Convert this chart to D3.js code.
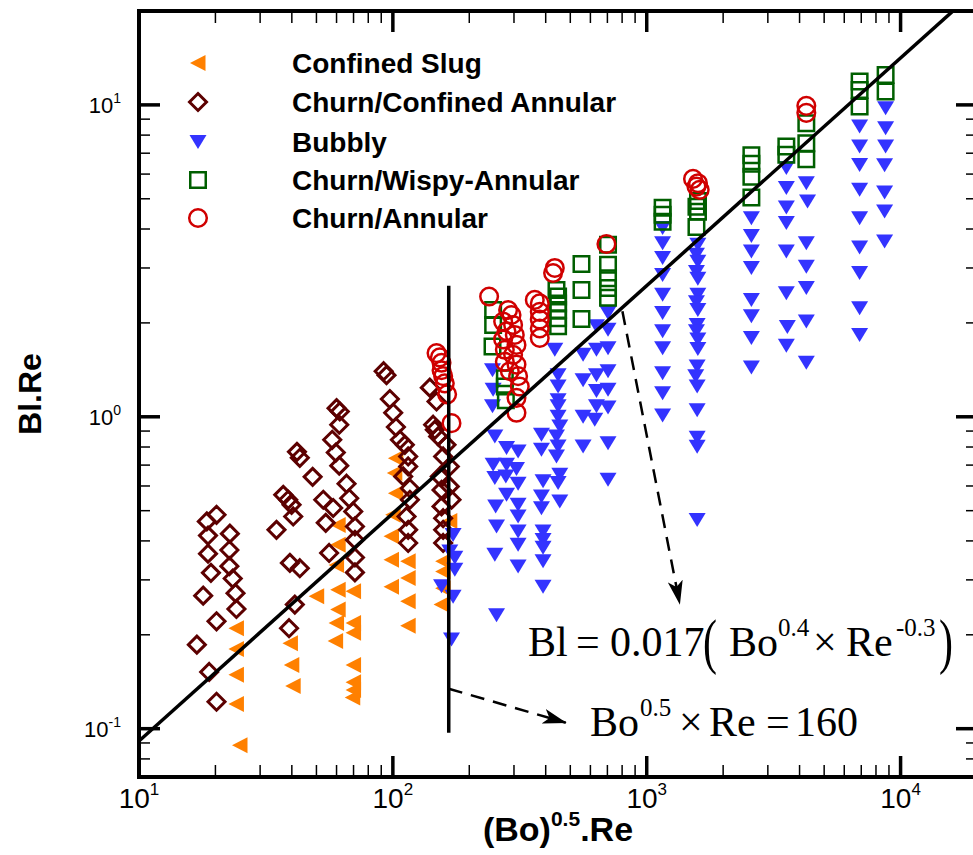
<!DOCTYPE html>
<html><head><meta charset="utf-8">
<script src="https://cdn.jsdelivr.net/npm/d3@7"></script>
<style>body{margin:0;background:#fff}svg{display:block}</style>
</head><body>
<svg id="chart" width="973" height="855"></svg>
<script>
// ---------------- data ----------------
const xMajorTicks = [10, 100, 1000, 10000];
const yMajorTicks = [0.1, 1, 10];
const xTickExponents = ["1", "2", "3", "4"];
const yTickExponents = ["-1", "0", "1"];
const seriesNames = ["Confined Slug", "Churn/Confined Annular", "Bubbly", "Churn/Wispy-Annular", "Churn/Annular"];

const confinedSlug = [
  [24.2,0.210],[24.2,0.180],[24.2,0.149],[24.2,0.120],[25.0,0.0885],
  [39.5,0.188],[40.0,0.160],[40.5,0.137],[50.1,0.266],
  [60.9,0.450],[60.9,0.389],[60.0,0.335],[60.9,0.279],[60.9,0.241],[60.0,0.218],[59.5,0.191],
  [70.0,0.276],[70.0,0.218],[70.0,0.203],[70.0,0.160],[70.0,0.141],[70.0,0.133],[69.5,0.126],
  [102.8,0.737],[101.8,0.660],[102.8,0.569],[100.3,0.485],[98.8,0.414],[98.8,0.348],[98.8,0.285],
  [114.9,0.344],[114.9,0.304],[114.9,0.256],[114.9,0.214],
  [157.8,0.344],[157.8,0.319],[157.8,0.282],[155.5,0.250],[167.6,0.463]
];
const churnConfined = [
  [20.2,0.485],[18.5,0.462],[18.7,0.416],[18.7,0.364],[19.2,0.316],[17.9,0.267],[20.2,0.221],[16.9,0.186],[18.9,0.152],[20.2,0.122],
  [22.8,0.422],[22.7,0.374],[22.7,0.332],[23.4,0.303],[24.0,0.272],[24.2,0.242],
  [34.8,0.434],[37.0,0.562],[38.7,0.542],[39.9,0.522],[40.5,0.479],[39.3,0.340],[43.0,0.327],[41.1,0.250],[39.0,0.210],
  [41.9,0.772],[43.0,0.739],[48.3,0.642],
  [53.2,0.542],[58.2,0.510],[54.4,0.457],[56.1,0.366],
  [60.0,1.066],[61.8,1.040],[61.5,0.943],[57.7,0.844],[59.6,0.768],[61.5,0.697],[65.7,0.610],[67.3,0.548],[69.8,0.497],[70.9,0.445],[70.9,0.403],[70.9,0.354],[70.9,0.317],
  [92.0,1.40],[94.4,1.36],[97.3,1.14],[100.3,1.03],[102.8,0.927],[106.6,0.844],[111.5,0.813],[114.9,0.746],[114.9,0.693],[109.8,0.644],[116.7,0.590],[116.7,0.542],[113.2,0.479],[114.9,0.434],[114.9,0.394],
  [139.8,1.24],[148.6,1.12],[144.1,0.943],[146.3,0.908],[150.8,0.865],[162.7,0.813],[157.8,0.746],[167.6,0.693],[153.1,0.644],[167.6,0.598],[155.5,0.583],[170.2,0.542],[155.5,0.516],[157.8,0.473],[157.8,0.434],[157.8,0.394]
];
const bubbly = [
  [172.7,0.418],[167.6,0.370],[175.4,0.353],[175.4,0.323],[155.5,0.286],[172.7,0.265],[170.2,0.193],
  [246.9,1.41],[248.3,1.22],[246.9,1.08],[252.2,0.865],[248.3,0.702],[252.2,0.636],[254.1,0.516],[256.1,0.445],[252.2,0.361],[256.1,0.231],
  [280.4,0.794],[280.4,0.702],[278.7,0.644],[280.4,0.562],
  [311.4,0.774],[306.9,0.680],[311.4,0.610],[311.4,0.522],[311.4,0.479],[311.4,0.429],[311.4,0.389],[311.4,0.331],
  [384.9,0.876],[384.9,0.784],[390.5,0.621],[384.9,0.555],[384.9,0.509],[390.5,0.429],[390.5,0.403],[390.5,0.380],[390.5,0.344],[390.5,0.285],
  [434.4,1.64],[447.6,1.36],[447.6,1.25],[447.6,1.13],[447.6,1.08],[447.6,1.00],[454.5,0.931],[441.1,0.865],[447.6,0.803],[441.1,0.746],[454.5,0.652],[447.6,0.613],[454.5,0.535],
  [561.5,1.58],[561.5,1.31],[561.5,1.00],[561.5,0.803],
  [633.9,1.95],[633.9,1.64],[633.9,1.36],[633.9,1.21],[633.9,1.08],[624.2,0.978],
  [704,2.15],[704,1.90],[704,1.66],[704,1.40],[704,1.22],[704,1.07],[704,0.823],[704,0.628],
  [1155,4.03],[1155,3.60],[1155,3.23],[1155,2.85],[1155,2.46],[1155,2.15],[1155,1.88],[1155,1.66],[1155,1.38],[1155,1.19],[1155,1.01],
  [1590,3.56],[1570,3.31],[1590,3.14],[1570,2.91],[1590,2.77],[1590,2.46],[1570,2.33],[1590,2.20],[1580,1.97],[1570,1.88],[1590,1.77],[1590,1.65],[1580,1.45],[1560,1.35],[1580,1.25],[1580,1.05],[1580,0.857],[1580,0.801],[1580,0.467],
  [2584,4.33],[2584,3.80],[2584,3.39],[2584,3.00],[2584,2.37],[2584,2.10],[2584,1.79],[2584,1.44],
  [3548,6.27],[3548,5.41],[3548,4.69],[3548,4.18],[3548,3.39],[3548,2.49],[3580,1.94],[3548,1.69],
  [4253,5.61],[4300,4.90],[4253,3.60],[4253,3.03],[4253,2.59],[4253,2.02],[4253,1.49],
  [6896,8.52],[6896,7.35],[6896,6.42],[6896,5.34],[6896,4.33],[6896,3.49],[6896,2.89],[6896,2.23],[6896,1.83],
  [8730,9.76],[8730,8.42],[8730,7.35],[8650,6.40],[8650,5.24],[8650,4.55],[8650,3.65]
];
const churnWispy = [
  [248.3,2.20],[248.3,1.97],[246.9,1.68],[276.1,1.33],[276.1,1.25],[278.7,1.13],
  [441.1,2.55],[447.6,2.43],[447.6,2.31],[447.6,2.20],[447.6,2.07],[447.6,1.95],
  [553.4,3.09],[553.4,2.55],[553.4,2.06],
  [704,3.56],[704,3.07],[704,2.78],[704,2.59],[704,2.41],
  [1155,4.68],[1155,4.44],[1155,4.22],
  [1592,4.92],[1570,4.71],[1592,4.54],[1570,4.06],
  [2584,6.89],[2584,6.47],[2584,5.88],[2584,5.05],
  [3548,7.35],[3548,6.92],
  [4253,8.74],[4253,7.54],[4253,6.70],
  [6896,11.88],[6896,11.17],[6896,9.88],
  [8730,12.48],[8730,11.03]
];
const churnAnnular = [
  [148.6,1.60],[153.1,1.55],[155.5,1.49],[155.5,1.41],[157.8,1.35],[160.2,1.28],[163.6,1.18],[170.2,0.954],
  [239.4,2.43],[284.4,2.20],[293.4,2.12],[271.9,2.02],[297.6,1.97],[280.4,1.88],[302.2,1.83],[271.9,1.77],[306.9,1.70],[276.1,1.64],[297.6,1.58],[276.1,1.50],[306.9,1.47],[288.9,1.40],[311.4,1.35],[316.2,1.25],[306.9,1.15],[306.9,1.03],
  [362.3,2.37],[379,2.31],[379,2.17],[379,2.05],[379,1.92],[379,1.79],
  [434.4,3.00],[427.7,2.89],[693.9,3.58],
  [1522,5.79],[1592,5.61],[1570,5.47],[1617,5.34],
  [4253,9.93],[4253,9.43]
];
// correlation line  Bl.Re = 0.017 * x^0.73
const fitCoef = 0.017, fitExp = 0.73;
const fitXRange = [10, 20000];
// transition line Bo^0.5 x Re = 160
const boundaryX = 166, boundaryYRange = [0.097, 2.63];
// annotation arrows [from, to] in data units
const arrowFit = [[802, 2.18], [1349, 0.2516]];
const arrowBoundary = [[166, 0.1343], [480, 0.1045]];

// ---------------- chart ----------------
const svg = d3.select("#chart");
const L = 139, T = 11, R = 977, B = 777;
const x = d3.scaleLog().domain([10, 20000]).range([L, R]);
const y = d3.scaleLog().domain([0.07, 20]).range([B, T]);

const defs = svg.append("defs");
defs.append("clipPath").attr("id", "clip").append("rect")
  .attr("x", L).attr("y", T).attr("width", R - L).attr("height", B - T);
defs.append("marker").attr("id", "ah").attr("viewBox", "0 0 24 15")
  .attr("refX", 23).attr("refY", 7.5).attr("markerWidth", 24).attr("markerHeight", 15)
  .attr("markerUnits", "userSpaceOnUse").attr("orient", "auto")
  .append("path").attr("d", "M0,0L24,7.5L0,15L6,7.5Z").attr("fill", "#000");

const shapes = {
  triLeft: "M-8,0L7.5,-8L7.5,8Z",
  diamond: "M0,-8.5L8.5,0L0,8.5L-8.5,0Z",
  triDown: "M-8.5,-7L8.5,-7L0,7Z",
  square: "M-7.75,-7.75H7.75V7.75H-7.75Z",
  circle: d3.symbol(d3.symbolCircle, Math.PI * 8.8 * 8.8)()
};
const series = [
  {data: confinedSlug, shape: "triLeft", color: "#ff8000", filled: true},
  {data: churnConfined, shape: "diamond", color: "#5c0000", filled: false, sw: 3},
  {data: bubbly, shape: "triDown", color: "#3333ff", filled: true},
  {data: churnWispy, shape: "square", color: "#005f00", filled: false, sw: 2.5},
  {data: churnAnnular, shape: "circle", color: "#d00000", filled: false, sw: 2.5}
];

function styleMarker(sel, s) {
  sel.attr("d", shapes[s.shape])
    .attr("fill", s.filled ? s.color : "none")
    .attr("stroke", s.filled ? "none" : s.color)
    .attr("stroke-width", s.sw || 0);
}

const plot = svg.append("g").attr("clip-path", "url(#clip)");
series.forEach(s => {
  plot.append("g").selectAll("path").data(s.data).join("path")
    .attr("transform", d => `translate(${x(d[0])},${y(d[1])})`)
    .call(styleMarker, s);
});

// correlation line
plot.append("line")
  .attr("x1", x(fitXRange[0])).attr("y1", y(fitCoef * Math.pow(fitXRange[0], fitExp)))
  .attr("x2", x(fitXRange[1])).attr("y2", y(fitCoef * Math.pow(fitXRange[1], fitExp)))
  .attr("stroke", "#000").attr("stroke-width", 3.5);
// boundary line
plot.append("line")
  .attr("x1", x(boundaryX)).attr("x2", x(boundaryX))
  .attr("y1", y(boundaryYRange[0])).attr("y2", y(boundaryYRange[1]))
  .attr("stroke", "#000").attr("stroke-width", 3.5);

// arrows
[arrowFit, arrowBoundary].forEach(a => {
  svg.append("line")
    .attr("x1", x(a[0][0])).attr("y1", y(a[0][1]))
    .attr("x2", x(a[1][0])).attr("y2", y(a[1][1]))
    .attr("stroke", "#000").attr("stroke-width", 2.5)
    .attr("stroke-dasharray", "14,9").attr("marker-end", "url(#ah)");
});

// frame
svg.append("rect").attr("x", L).attr("y", T).attr("width", R - L).attr("height", B - T)
  .attr("fill", "none").attr("stroke", "#000").attr("stroke-width", 4);

// ticks
function minors(domain) {
  const out = [];
  const lo = Math.floor(Math.log10(domain[0])), hi = Math.ceil(Math.log10(domain[1]));
  for (let e = lo; e < hi; e++) for (let k = 2; k <= 9; k++) {
    const v = k * Math.pow(10, e);
    if (v > domain[0] && v < domain[1]) out.push(v);
  }
  return out;
}
const tg = svg.append("g").attr("stroke", "#000");
const xMin = minors(x.domain()), yMin = minors(y.domain());
function xt(vals, len, w) {
  vals.forEach(v => {
    tg.append("line").attr("x1", x(v)).attr("x2", x(v)).attr("y1", B).attr("y2", B - len).attr("stroke-width", w);
    tg.append("line").attr("x1", x(v)).attr("x2", x(v)).attr("y1", T).attr("y2", T + len).attr("stroke-width", w);
  });
}
function yt(vals, len, w) {
  vals.forEach(v => {
    tg.append("line").attr("y1", y(v)).attr("y2", y(v)).attr("x1", L).attr("x2", L + len).attr("stroke-width", w);
    tg.append("line").attr("y1", y(v)).attr("y2", y(v)).attr("x1", R).attr("x2", R - len).attr("stroke-width", w);
  });
}
xt(xMajorTicks, 21, 3.5); xt(xMin, 12, 1.5);
yt(yMajorTicks, 21, 3.5); yt(yMin, 11, 1.5);

// tick labels
xMajorTicks.forEach((v, i) => {
  const t = svg.append("text").attr("x", x(v)).attr("y", 808)
    .attr("text-anchor", "middle").attr("font-family", "Liberation Sans, Arial, sans-serif")
    .attr("font-size", 28);
  t.append("tspan").text("10");
  t.append("tspan").attr("font-size", 17).attr("dy", -13).text(xTickExponents[i]);
});
yMajorTicks.forEach((v, i) => {
  const t = svg.append("text").attr("x", 121).attr("y", y(v) + 8)
    .attr("text-anchor", "end").attr("font-family", "Liberation Sans, Arial, sans-serif")
    .attr("font-size", 22);
  t.append("tspan").text("10");
  t.append("tspan").attr("font-size", 14).attr("dy", -10).text(yTickExponents[i]);
});

// axis titles
const xt1 = svg.append("text").attr("x", (L + R) / 2).attr("y", 841).attr("text-anchor", "middle")
  .attr("font-family", "Liberation Sans, Arial, sans-serif").attr("font-weight", "bold").attr("font-size", 34);
xt1.append("tspan").text("(Bo)");
xt1.append("tspan").attr("font-size", 21).attr("dy", -15).text("0.5");
xt1.append("tspan").attr("dy", 15).text(".Re");
svg.append("text").attr("transform", `translate(41,${(T + B) / 2}) rotate(-90)`)
  .attr("text-anchor", "middle").attr("font-family", "Liberation Sans, Arial, sans-serif")
  .attr("font-weight", "bold").attr("font-size", 32).text("Bl.Re");

// legend
const legRows = [63, 102, 142, 180, 218];
series.forEach((s, i) => {
  svg.append("path").attr("transform", `translate(198,${legRows[i]})`).call(styleMarker, s);
  svg.append("text").attr("x", 292).attr("y", legRows[i] + 10)
    .attr("font-family", "Liberation Sans, Arial, sans-serif").attr("font-weight", "bold")
    .attr("font-size", 28).text(seriesNames[i]);
});

// equations
const serif = "Liberation Serif, Times New Roman, serif";
function piece(txt, px, py, size, extra) {
  const t = svg.append("text").attr("x", px).attr("y", py).attr("font-family", serif)
    .attr("font-size", size).text(txt);
  if (extra) extra(t);
  return t;
}
piece("Bl", 528, 656, 42);
piece("=", 576, 656, 42);
piece("0.017", 610, 656, 42);
piece("(", 0, 0, 42, t => t.attr("transform", "translate(703,662) scale(1,1.45)"));
piece("Bo", 729, 656, 42);
piece("0.4", 778, 636, 25);
piece("×", 813, 656, 42);
piece("Re", 846, 656, 42);
piece("-0.3", 896, 636, 25);
piece(")", 0, 0, 42, t => t.attr("transform", "translate(939,662) scale(1,1.45)"));

piece("Bo", 590, 736, 42);
piece("0.5", 640, 716, 25);
piece("×", 679, 736, 42);
piece("Re", 709, 736, 42);
piece("=", 766, 736, 42);
piece("160", 795, 736, 42);
</script>
</body></html>
